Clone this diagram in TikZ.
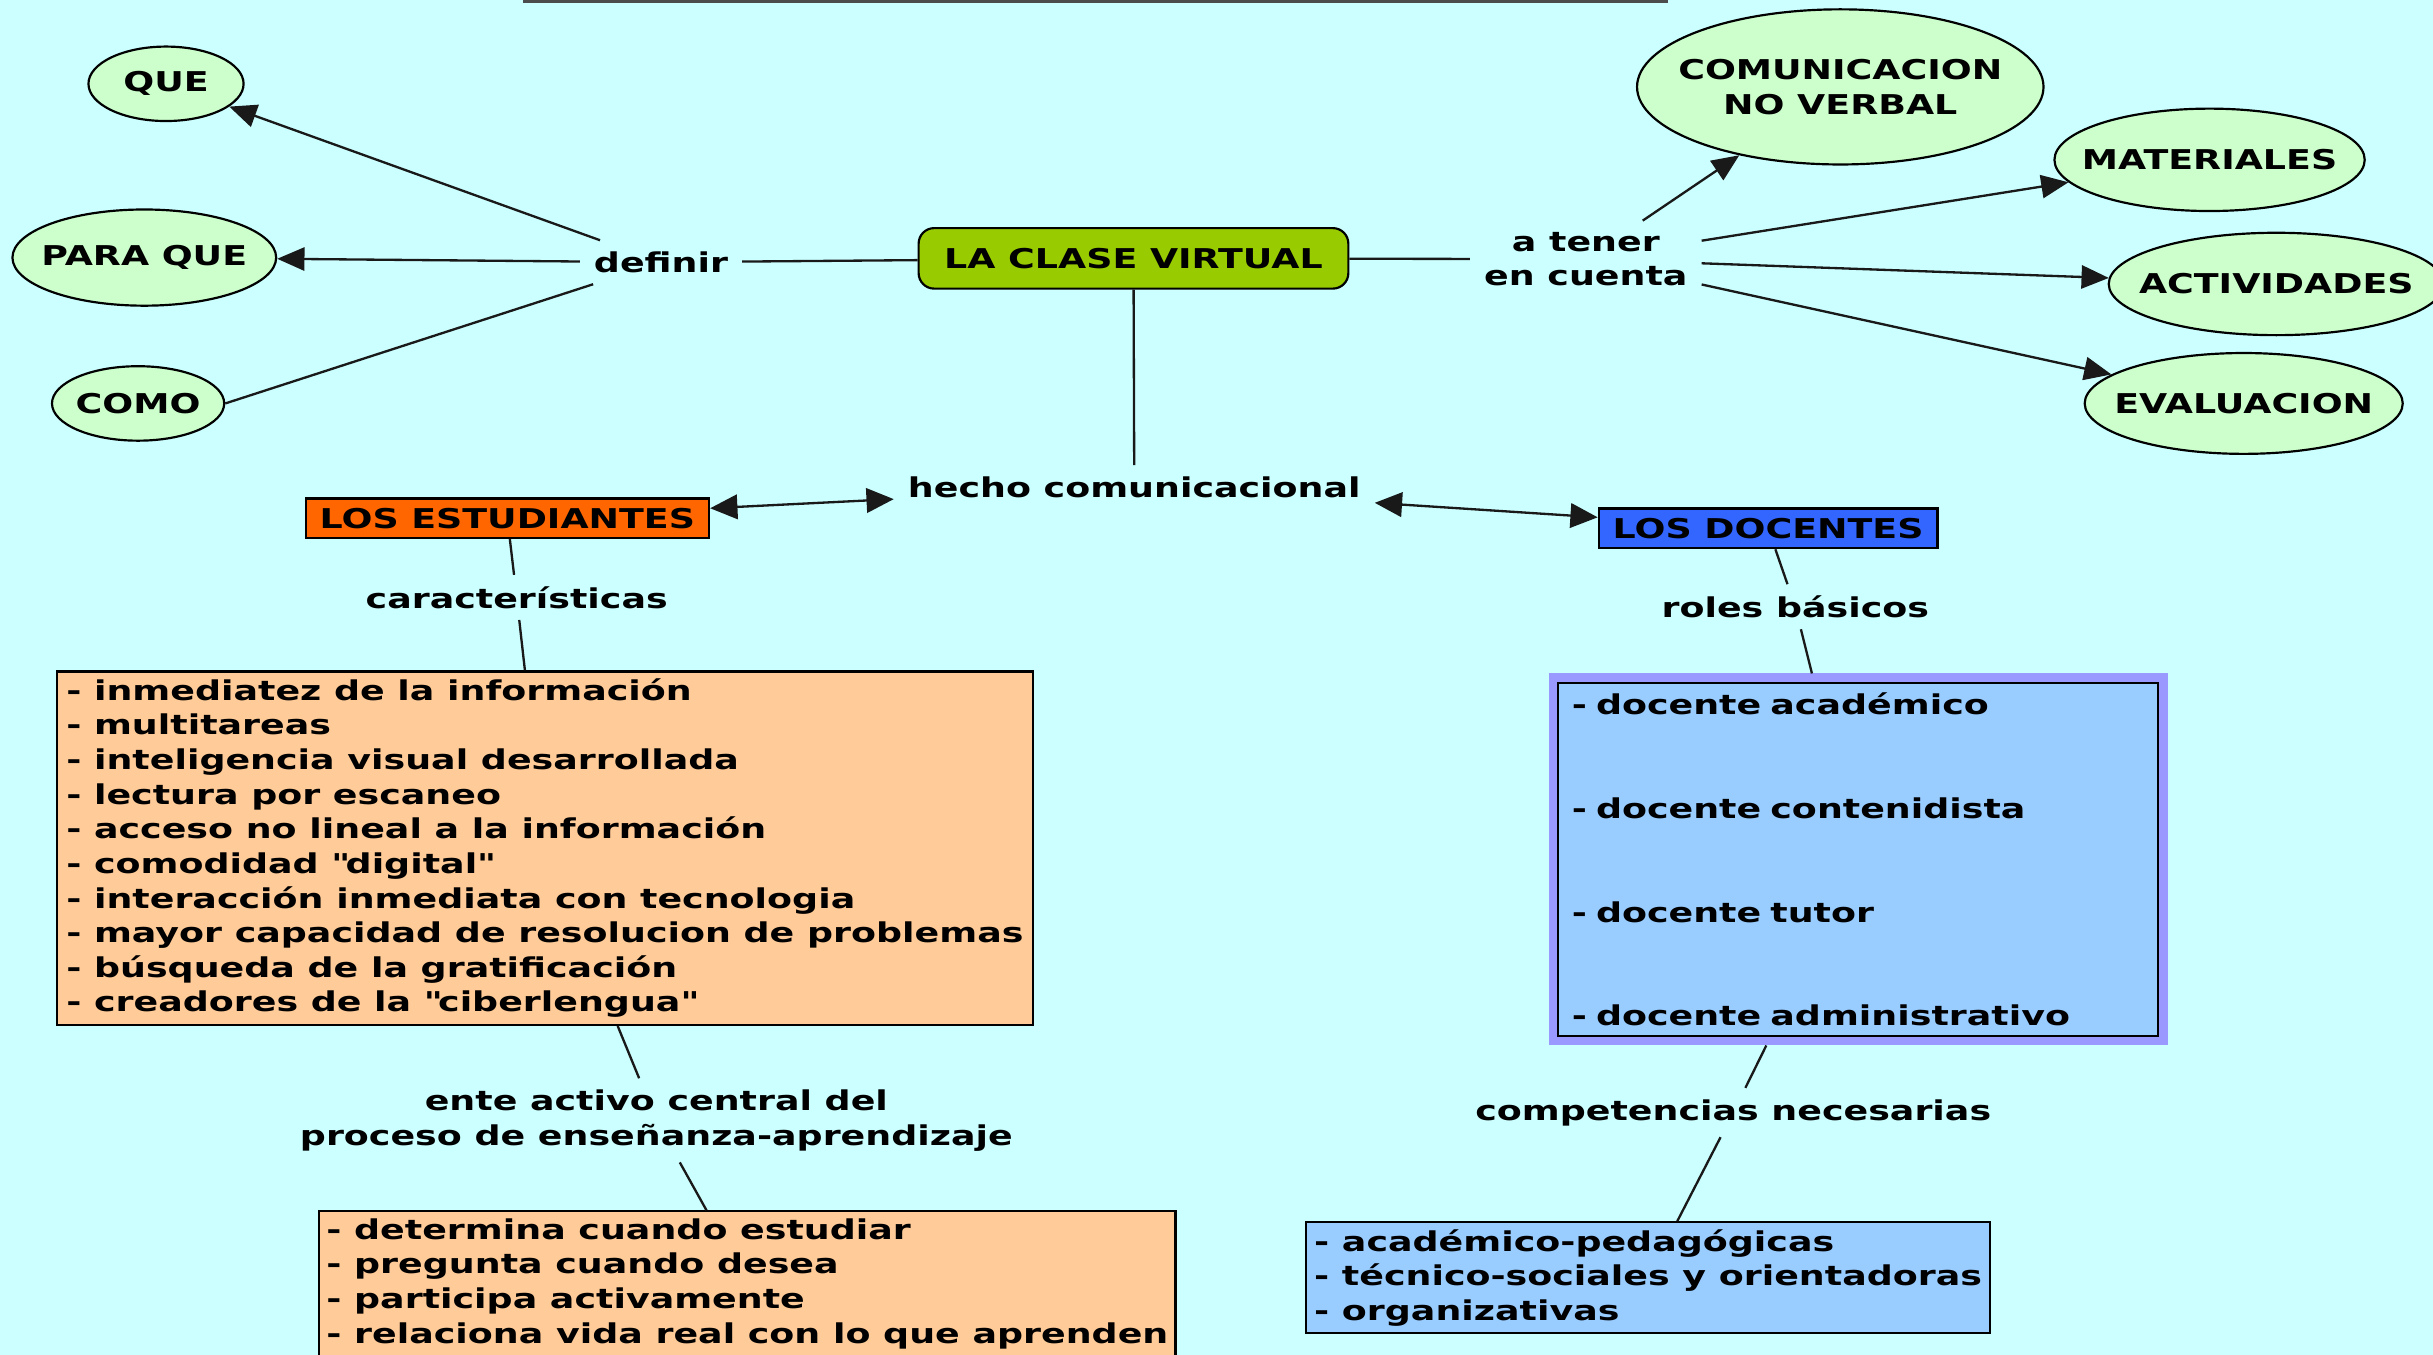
\documentclass[tikz,border=0pt]{standalone}
\usepackage{fontspec}
\setmainfont{DejaVu Sans}[FakeStretch=1.335]
\usetikzlibrary{shapes.geometric,arrows.meta,positioning}
\definecolor{mapbg}{RGB}{204,255,255}
\definecolor{bubblegreen}{RGB}{204,255,204}
\definecolor{clasegreen}{RGB}{153,204,0}
\definecolor{estudorange}{RGB}{255,102,0}
\definecolor{listorange}{RGB}{255,204,153}
\definecolor{docblue}{RGB}{51,102,255}
\definecolor{listblue}{RGB}{153,204,255}
\definecolor{glowblue}{RGB}{153,153,255}

\begin{document}
\begin{tikzpicture}[x=0.02cm, y=-0.02cm,
    every node/.style={font=\fontsize{10pt}{12.7pt}\selectfont\bfseries},
    bubble/.style={ellipse, draw, fill=bubblegreen, line width=0.8pt, inner sep=-1cm},
    linkword/.style={align=center, inner xsep=5pt, inner ysep=4pt},
    titlebox/.style={draw, line width=0.8pt, inner xsep=0.18cm, inner ysep=2pt, minimum height=0.51cm},
    listbox/.style={draw, line width=0.8pt, align=left, anchor=north west, inner xsep=0pt, inner ysep=2.6pt},
    conn/.style={line width=0.85pt, draw=black!90},
    arr/.style={conn, -{Triangle[length=10pt, width=8.5pt]}},
    arrboth/.style={conn, {Triangle[length=10pt, width=9pt]}-{Triangle[length=10pt, width=9pt]}}]

    % Background
    \useasboundingbox (0,0) rectangle (1568,873);
    \clip (0,0) rectangle (1568,873);
    \fill[mapbg] (0,0) rectangle (1568,873);
    \draw[gray!60!black, line width=2pt] (337,0) -- (1075,0);

    % Central concept
    \node[draw, fill=clasegreen, rounded corners=0.2cm, line width=0.8pt, minimum width=5.54cm, minimum height=0.78cm] (clase) at (730.5,166.5) {LA CLASE VIRTUAL};

    % definir
    \node[linkword] (definir) at (426,169) {definir};
    \node[bubble, minimum width=2cm, minimum height=0.96cm] (que) at (107,54) {QUE};
    \node[bubble, minimum width=3.4cm, minimum height=1.24cm] (paraque) at (93,166) {PARA QUE};
    \node[bubble, minimum width=2.22cm, minimum height=0.96cm] (como) at (89,260) {COMO};

    % a tener en cuenta
    \node[linkword] (atener) at (1022,167) {a tener\\en cuenta};
    \node[bubble, align=center, minimum width=5.24cm, minimum height=2cm] (noverbal) at (1186,56) {COMUNICACION\\NO VERBAL};
    \node[bubble, minimum width=4cm, minimum height=1.32cm] (materiales) at (1424,103) {MATERIALES};
    \node[bubble, minimum width=4.32cm, minimum height=1.32cm] (actividades) at (1467,183) {ACTIVIDADES};
    \node[bubble, minimum width=4.1cm, minimum height=1.3cm] (evaluacion) at (1446,260) {EVALUACION};

    % hecho comunicacional
    \node[linkword] (hecho) at (731,314) {hecho comunicacional};
    \node[titlebox, fill=estudorange] (estud) at (327,334) {LOS ESTUDIANTES};
    \node[titlebox, fill=docblue] (docentes) at (1139.5,340.5) {LOS DOCENTES};

    % Estudiantes
    \node[linkword] (carac) at (333,385) {características};
    \node[listbox, fill=listorange, minimum width=12.58cm] (rasgos) at (36,432) {- inmediatez de la información\\- multitareas\\- inteligencia visual desarrollada\\- lectura por escaneo\\- acceso no lineal a la información\\- comodidad \textquotedbl digital\textquotedbl\\- interacción inmediata con tecnologia\\- mayor capacidad de resolucion de problemas\\- búsqueda de la gratificación\\- creadores de la \textquotedbl ciberlengua\textquotedbl};
    \node[linkword] (activo) at (423,722) {ente activo central del\\proceso de enseñanza-aprendizaje};
    \node[listbox, fill=listorange, minimum width=11.04cm] (acciones) at (205,780) {- determina cuando estudiar\\- pregunta cuando desea\\- participa activamente\\- relaciona vida real con lo que aprenden};

    % Docentes
    \node[linkword] (basicos) at (1157,391) {roles básicos};
    \node[listbox, fill=listblue, text width=7.38cm, inner xsep=0.18cm, inner ysep=3.6pt, outer sep=0.12cm, preaction={draw=glowblue, line width=0.24cm}] (roles) at (998,434) {- docente académico\\[25.4pt]- docente contenidista\\[25.4pt]- docente tutor\\[25.4pt]- docente administrativo};
    \node[linkword] (compet) at (1117,717) {competencias necesarias};
    \node[listbox, fill=listblue, minimum width=8.82cm] (compbox) at (841,787) {- académico-pedagógicas\\- técnico-sociales y orientadoras\\- organizativas};

    % Connectors
    \draw[conn] (clase) -- (definir);
    \draw[arr] (definir) -- (que);
    \draw[arr] (definir) -- (paraque);
    \draw[conn] (definir) -- (como.east);
    \draw[conn] (clase) -- (atener);
    \foreach \dest in {noverbal, materiales, actividades, evaluacion}
        \draw[arr] (atener) -- (\dest);
    \draw[conn] (clase) -- (hecho);
    \draw[arrboth] (estud) -- (hecho);
    \draw[arrboth] (hecho) -- (docentes);
    \draw[conn] (estud) -- (carac);
    \draw[conn] (carac) -- (rasgos);
    \draw[conn] (rasgos) -- (activo);
    \draw[conn] (activo) -- (acciones);
    \draw[conn] (docentes) -- (basicos);
    \draw[conn] (basicos) -- (roles);
    \draw[conn] (roles) -- (compet);
    \draw[conn] (compet) -- (compbox);
\end{tikzpicture}
\end{document}
